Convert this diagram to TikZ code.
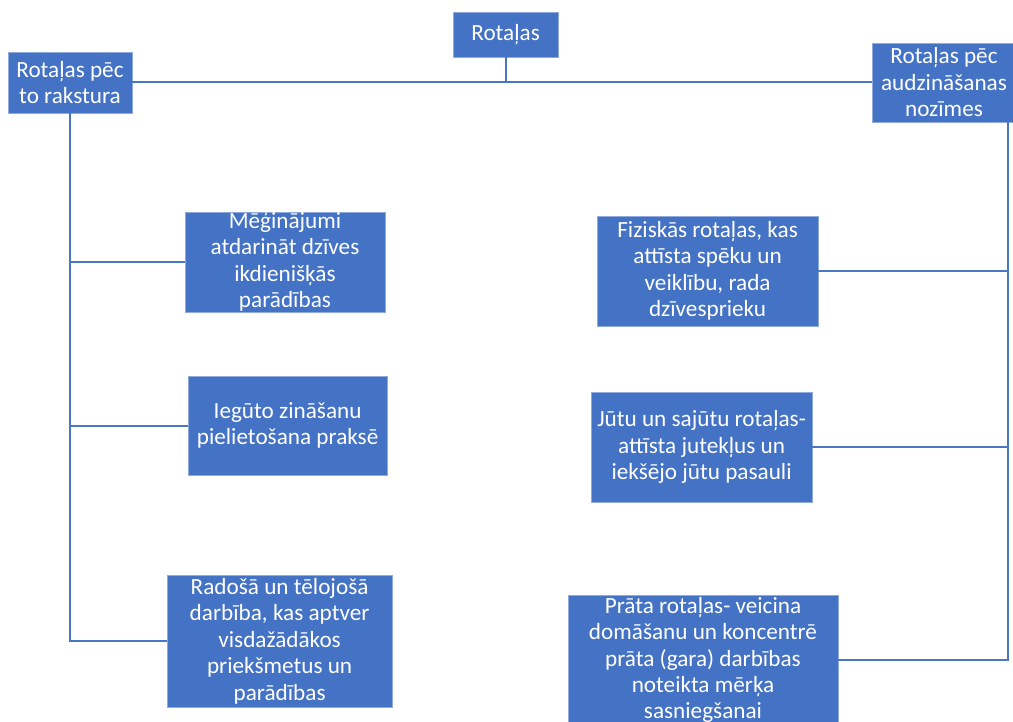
\documentclass[tikz,border=0pt]{standalone}
\usepackage{fontspec}
\setmainfont{Carlito}
\definecolor{RotBlue}{HTML}{4472C4}
\definecolor{RotEdge}{HTML}{8FAADC}
\definecolor{RotLine}{HTML}{4A76C6}
\usepackage{tikz}
\usetikzlibrary{positioning,calc}

\begin{document}
\begin{tikzpicture}[
    box/.style={fill=RotBlue, draw=RotEdge, line width=0.5pt, text=white,
      align=center, inner sep=0pt,
      font=\fontsize{16.5}{18.8}\selectfont},
    link/.style={draw=RotLine, line width=1.3pt}
  ]
  \useasboundingbox (0,0) rectangle (25.325,-18.05);
  % top level
  \node[box, minimum width=2.625cm, minimum height=1.125cm] (root) at (12.64,-0.86) {Rotaļas};
  \node[box, minimum width=3.1cm, minimum height=1.525cm] (typ) at (1.75,-2.06) {Rotaļas pēc\\to rakstura};
  \node[box, minimum width=3.6cm, minimum height=1.975cm] (aud) at (23.6,-2.06) {Rotaļas pēc\\audzināšanas\\nozīmes};
  % left branch
  \node[box, minimum width=5.0cm, minimum height=2.5cm] (m1) at (7.125,-6.55)
    {Mēģinājumi\\atdarināt dzīves\\ikdienišķās\\parādības};
  \node[box, minimum width=4.975cm, minimum height=2.475cm] (m2) at (7.19,-10.64)
    {Iegūto zināšanu\\pielietošana praksē};
  \node[box, minimum width=5.625cm, minimum height=3.3cm] (m3) at (6.99,-16.03)
    {Radošā un tēlojošā\\darbība, kas aptver\\visdažādākos\\priekšmetus un\\parādības};
  % right branch
  \node[box, minimum width=5.525cm, minimum height=2.75cm] (f1) at (17.69,-6.775)
    {Fiziskās rotaļas, kas\\attīsta spēku un\\veiklību, rada\\dzīvesprieku};
  \node[box, minimum width=5.525cm, minimum height=2.75cm] (f2) at (17.54,-11.175)
    {Jūtu un sajūtu rotaļas-\\attīsta jutekļus un\\iekšējo jūtu pasauli};
  \node[box, minimum width=6.75cm, minimum height=3.25cm] (f3) at (17.575,-16.5)
    {Prāta rotaļas- veicina\\domāšanu un koncentrē\\prāta (gara) darbības\\noteikta mērķa\\sasniegšanai};
  % connectors
  \draw[link] (typ.east) -- (aud.west);
  \draw[link] (root.south) -- (root.south |- typ.east);
  \draw[link] (typ.south) |- (m3.west);
  \draw[link] (typ.south |- m1.west) -- (m1.west);
  \draw[link] (typ.south |- m2.west) -- (m2.west);
  \path (aud.south) ++(1.6,0) coordinate (abus);
  \draw[link] (abus) |- (f3.east);
  \draw[link] (abus |- f1.east) -- (f1.east);
  \draw[link] (abus |- f2.east) -- (f2.east);
\end{tikzpicture}
\end{document}
